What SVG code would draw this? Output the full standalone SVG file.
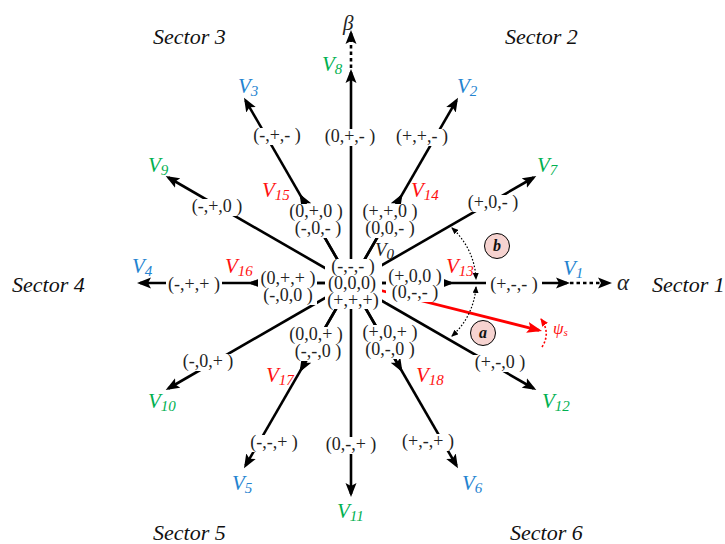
<svg xmlns="http://www.w3.org/2000/svg" width="725" height="544" viewBox="0 0 725 544">
<style>
.ln{stroke:#000;stroke-width:2.6;fill:none}
.dl{stroke:#000;stroke-width:2.6;fill:none;stroke-dasharray:3.5 3}
.arc{stroke:#000;stroke-width:1.2;fill:none;stroke-dasharray:1.6 1.8}
.red{stroke:#ff0000;stroke-width:2.8;fill:none}
.rarc{stroke:#ff0000;stroke-width:1.6;fill:none;stroke-dasharray:2 2}
.st{font-family:"Liberation Serif",serif;font-size:18px;fill:#222;text-anchor:middle}
.bg{fill:#fff}
.v{font-family:"Liberation Serif",serif;font-style:italic;font-size:21px}
.sub{font-size:15px}
.blue{fill:#2483d0}
.green{fill:#00b050}
.redt{fill:#ff1010}
.blk{fill:#222}
.sec{font-family:"Liberation Serif",serif;font-style:italic;font-size:22px;fill:#111}
.cir{fill:#f6d3d0;stroke:#000;stroke-width:1}
.cl{font-family:"Liberation Serif",serif;font-style:italic;font-weight:bold;font-size:16px;text-anchor:middle;fill:#111}
</style>
<defs>
<marker id="ah" markerUnits="userSpaceOnUse" markerWidth="14" markerHeight="12" viewBox="0 0 14 12" refX="11" refY="6" orient="auto"><path d="M0,0.5 L14,6 L0,11.5 L3,6 z" fill="#000"/></marker>
<marker id="rah" markerUnits="userSpaceOnUse" markerWidth="15" markerHeight="12" viewBox="0 0 15 12" refX="12" refY="6" orient="auto"><path d="M0,0.5 L15,6 L0,11.5 L3,6 z" fill="#ff0000"/></marker>
<marker id="sa" markerUnits="userSpaceOnUse" markerWidth="7" markerHeight="6" viewBox="0 0 7 6" refX="6" refY="3" orient="auto-start-reverse"><path d="M0,0 L7,3 L0,6 z" fill="#000"/></marker>
<marker id="rsa" markerUnits="userSpaceOnUse" markerWidth="8" markerHeight="7" viewBox="0 0 8 7" refX="7" refY="3.5" orient="auto"><path d="M0,0 L8,3.5 L0,7 z" fill="#ff0000"/></marker>
</defs>
<rect width="725" height="544" fill="#fff"/>
<g id="connectors">
<line class="ln" x1="351" y1="283" x2="567" y2="283" marker-end="url(#ah)"/>
<line class="ln" x1="351" y1="283" x2="451" y2="283" marker-end="url(#ah)"/>
<line class="dl" x1="570" y1="283" x2="609" y2="283" marker-end="url(#ah)"/>
<line class="ln" x1="351" y1="283" x2="533.7" y2="177.5" marker-end="url(#ah)"/>
<line class="ln" x1="351" y1="283" x2="456.5" y2="100.3" marker-end="url(#ah)"/>
<line class="ln" x1="351" y1="283" x2="401" y2="196.4" marker-end="url(#ah)"/>
<line class="ln" x1="351" y1="283" x2="351" y2="72" marker-end="url(#ah)"/>
<line class="dl" x1="351" y1="68" x2="351" y2="33" marker-end="url(#ah)"/>
<line class="ln" x1="351" y1="283" x2="245.5" y2="100.3" marker-end="url(#ah)"/>
<line class="ln" x1="351" y1="283" x2="301" y2="196.4" marker-end="url(#ah)"/>
<line class="ln" x1="351" y1="283" x2="168.3" y2="177.5" marker-end="url(#ah)"/>
<line class="ln" x1="351" y1="283" x2="140" y2="283" marker-end="url(#ah)"/>
<line class="ln" x1="351" y1="283" x2="251" y2="283" marker-end="url(#ah)"/>
<line class="ln" x1="351" y1="283" x2="168.3" y2="388.5" marker-end="url(#ah)"/>
<line class="ln" x1="351" y1="283" x2="245.5" y2="465.7" marker-end="url(#ah)"/>
<line class="ln" x1="351" y1="283" x2="301" y2="369.6" marker-end="url(#ah)"/>
<line class="ln" x1="351" y1="283" x2="351" y2="494" marker-end="url(#ah)"/>
<line class="ln" x1="351" y1="283" x2="456.5" y2="465.7" marker-end="url(#ah)"/>
<line class="ln" x1="351" y1="283" x2="401" y2="369.6" marker-end="url(#ah)"/>
<line class="ln" x1="351" y1="283" x2="533.7" y2="388.5" marker-end="url(#ah)"/>
<line class="red" x1="351" y1="283" x2="539.1" y2="330.3" marker-end="url(#rah)"/>
<path class="arc" d="M452,228 A73,73 0 0 1 476,279" marker-start="url(#sa)" marker-end="url(#sa)"/>
<path class="arc" d="M476,287 A73,73 0 0 1 452,336" marker-start="url(#sa)" marker-end="url(#sa)"/>
<path class="rarc" d="M542,347 Q551,333 541,319" marker-end="url(#rsa)"/>
</g>
<g id="states">
<g id="s-0pm"><rect class="bg" x="323" y="129" width="55" height="17"/><text class="st" x="350" y="142">(0,+,- )</text></g>
<g id="s-ppm"><rect class="bg" x="395" y="129" width="55" height="17"/><text class="st" x="422" y="142">(+,+,- )</text></g>
<g id="s-mpm"><rect class="bg" x="250" y="128" width="55" height="17"/><text class="st" x="277" y="141">(-,+,- )</text></g>
<g id="s-p0m"><rect class="bg" x="466" y="195" width="55" height="17"/><text class="st" x="493" y="208">(+,0,- )</text></g>
<g id="s-mp0"><rect class="bg" x="190" y="199" width="55" height="17"/><text class="st" x="217" y="212">(-,+,0 )</text></g>
<g id="s-pp0"><rect class="bg" x="361" y="204" width="58" height="34"/><text class="st" x="390" y="217">(+,+,0 )</text><text class="st" x="390" y="234">(0,0,- )</text></g>
<g id="s-0p0"><rect class="bg" x="287" y="204" width="59" height="34"/><text class="st" x="316" y="217">(0,+,0 )</text><text class="st" x="318" y="234">(-,0,- )</text></g>
<g id="s-zero"><rect class="bg" x="325" y="259" width="57" height="50"/><text class="st" x="353" y="272">(-,-,- )</text><text class="st" x="352" y="289">(0,0,0)</text><text class="st" x="353" y="306">(+,+,+)</text></g>
<g id="s-p00"><rect class="bg" x="386" y="269" width="58" height="33"/><text class="st" x="415" y="282">(+,0,0 )</text><text class="st" x="415" y="298">(0,-,- )</text></g>
<g id="s-0pp"><rect class="bg" x="258" y="271" width="59" height="34"/><text class="st" x="288" y="284">(0,+,+ )</text><text class="st" x="288" y="301">(-,0,0 )</text></g>
<g id="s-mpp"><rect class="bg" x="166" y="277" width="56" height="17"/><text class="st" x="194" y="290">(-,+,+ )</text></g>
<g id="s-pmm"><rect class="bg" x="486" y="277" width="56" height="17"/><text class="st" x="514" y="290">(+,-,- )</text></g>
<g id="s-00p"><rect class="bg" x="287" y="327" width="59" height="34"/><text class="st" x="316" y="340">(0,0,+ )</text><text class="st" x="318" y="357">(-,-,0 )</text></g>
<g id="s-p0p"><rect class="bg" x="361" y="325" width="58" height="34"/><text class="st" x="390" y="338">(+,0,+ )</text><text class="st" x="390" y="355">(0,-,0 )</text></g>
<g id="s-m0p"><rect class="bg" x="180" y="354" width="56" height="17"/><text class="st" x="208" y="367">(-,0,+ )</text></g>
<g id="s-pm0"><rect class="bg" x="472" y="355" width="56" height="17"/><text class="st" x="500" y="368">(+,-,0 )</text></g>
<g id="s-mmp"><rect class="bg" x="246" y="435" width="56" height="17"/><text class="st" x="274" y="448">(-,-,+ )</text></g>
<g id="s-0mp"><rect class="bg" x="323" y="437" width="56" height="17"/><text class="st" x="351" y="450">(0,-,+ )</text></g>
<g id="s-pmp"><rect class="bg" x="400" y="434" width="56" height="17"/><text class="st" x="428" y="447">(+,-,+ )</text></g>
</g>
<g id="vectors">
<g id="V1"><text class="v blue" x="563" y="275">V<tspan class="sub" dy="3">1</tspan></text></g>
<g id="V2"><text class="v blue" x="457" y="93">V<tspan class="sub" dy="3">2</tspan></text></g>
<g id="V3"><text class="v blue" x="238" y="93">V<tspan class="sub" dy="3">3</tspan></text></g>
<g id="V4"><text class="v blue" x="132" y="273">V<tspan class="sub" dy="3">4</tspan></text></g>
<g id="V5"><text class="v blue" x="232" y="490">V<tspan class="sub" dy="3">5</tspan></text></g>
<g id="V6"><text class="v blue" x="462" y="490">V<tspan class="sub" dy="3">6</tspan></text></g>
<g id="V7"><text class="v green" x="537" y="172">V<tspan class="sub" dy="3">7</tspan></text></g>
<g id="V8"><text class="v green" x="322" y="71">V<tspan class="sub" dy="3">8</tspan></text></g>
<g id="V9"><text class="v green" x="148" y="172">V<tspan class="sub" dy="3">9</tspan></text></g>
<g id="V10"><text class="v green" x="148" y="408">V<tspan class="sub" dy="3">10</tspan></text></g>
<g id="V11"><text class="v green" x="337" y="518">V<tspan class="sub" dy="3">11</tspan></text></g>
<g id="V12"><text class="v green" x="542" y="408">V<tspan class="sub" dy="3">12</tspan></text></g>
<g id="V13"><text class="v redt" x="446" y="273">V<tspan class="sub" dy="3">13</tspan></text></g>
<g id="V14"><text class="v redt" x="411" y="197">V<tspan class="sub" dy="3">14</tspan></text></g>
<g id="V15"><text class="v redt" x="262" y="197">V<tspan class="sub" dy="3">15</tspan></text></g>
<g id="V16"><text class="v redt" x="225" y="273">V<tspan class="sub" dy="3">16</tspan></text></g>
<g id="V17"><text class="v redt" x="266" y="382">V<tspan class="sub" dy="3">17</tspan></text></g>
<g id="V18"><text class="v redt" x="416" y="382">V<tspan class="sub" dy="3">18</tspan></text></g>
<g id="V0"><text class="v blk" x="375" y="256" style="font-size:19px">V<tspan class="sub" dy="3">0</tspan></text></g>
</g>
<g id="axes">
<text class="v blk" x="617" y="290" style="font-size:23px">α</text>
<text class="v blk" x="343" y="30">β</text>
<text class="v redt" x="553" y="334" style="font-size:17px">ψ<tspan style="font-size:11px" dy="2">s</tspan></text>
</g>
<g id="regions">
<g id="region-b"><circle class="cir" cx="497" cy="246" r="12.5"/><text class="cl" x="497" y="251">b</text></g>
<g id="region-a"><circle class="cir" cx="483" cy="333" r="12.5"/><text class="cl" x="483" y="338">a</text></g>
</g>
<g id="sectors">
<text class="sec" x="153" y="44">Sector 3</text>
<text class="sec" x="505" y="44">Sector 2</text>
<text class="sec" x="12" y="292">Sector 4</text>
<text class="sec" x="652" y="292">Sector 1</text>
<text class="sec" x="153" y="540">Sector 5</text>
<text class="sec" x="510" y="540">Sector 6</text>
</g>
</svg>
